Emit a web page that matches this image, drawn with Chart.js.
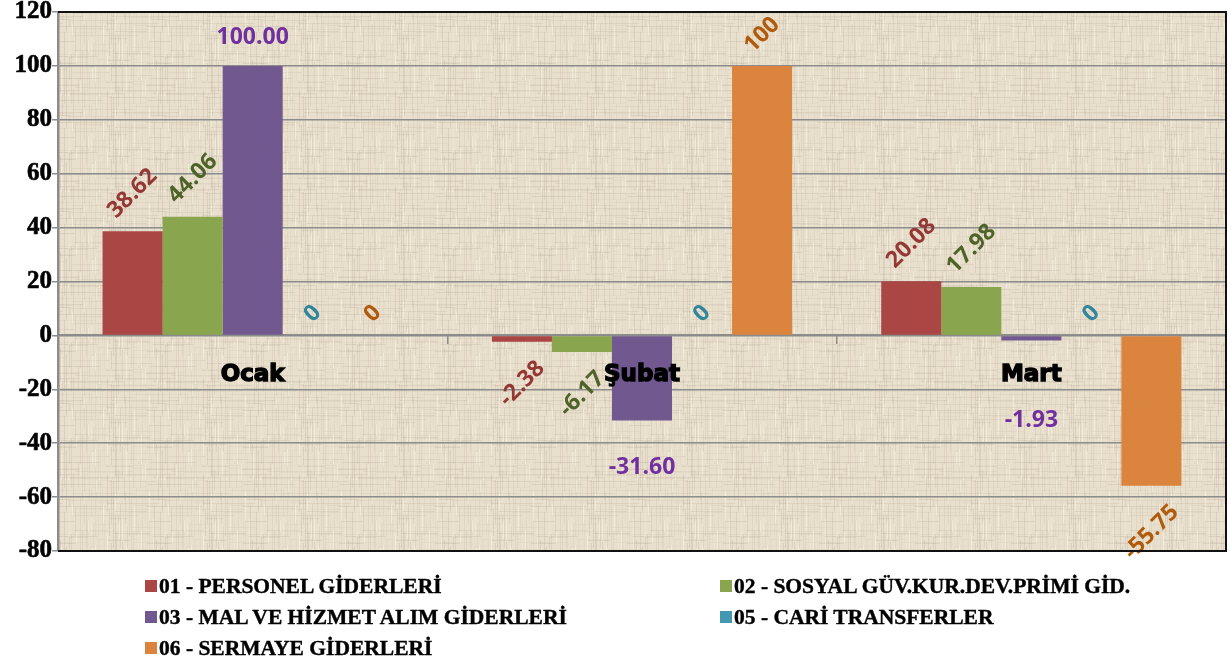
<!DOCTYPE html>
<html lang="tr">
<head>
<meta charset="utf-8">
<title>Ödenek değişimi</title>
<script src="https://cdn.jsdelivr.net/npm/chart.js@4.4.1/dist/chart.umd.min.js"></script>
<style>
    html, body { margin: 0; padding: 0; background: #fff; }
    #wrap { position: relative; width: 1231px; height: 664px; }
    #legend {
        position: absolute; left: 145px; top: 571px;
        display: grid; grid-template-columns: 575px auto;
        font: bold 21.5px "Liberation Serif", "Times New Roman", serif;
        color: #000; line-height: 31px;
        -webkit-text-stroke: 0.4px #000;
    }
    #legend .item { white-space: nowrap; }
    #legend .box {
        display: inline-block; width: 12px; height: 12px;
        margin-right: 2px; vertical-align: 1px;
    }
</style>
</head>
<body>
<div id="wrap">
    <canvas id="chart"></canvas>
    <div id="legend"></div>
</div>
<script>
// Veriler
const months = ["Ocak", "Şubat", "Mart"];
const personel = [38.62, -2.38, 20.08];
const sosyalGuv = [44.06, -6.17, 17.98];
const malHizmet = [100.00, -31.60, -1.93];
const cariTransfer = [0, 0, 0];
const sermaye = [0, 100, -55.75];
const yTicks = [-80, -60, -40, -20, 0, 20, 40, 60, 80, 100, 120];

const seriesNames = [
    "01 - PERSONEL GİDERLERİ",
    "02 - SOSYAL GÜV.KUR.DEV.PRİMİ GİD.",
    "03 - MAL VE HİZMET ALIM GİDERLERİ",
    "05 - CARİ TRANSFERLER",
    "06 - SERMAYE GİDERLERİ",
];

// Stil
const barColors = ["#AA4643", "#89A54E", "#71588F", "#4198AF", "#DB843D"];
const labelColors = ["#953735", "#4F6228", "#7030A0", "#31859C", "#B25A0C"];
const labelRotated = [true, true, false, true, true];
const labelDecimals = [null, null, 2, null, null];

const GRID = "#8c8c8c";
const X_TICK_LEN = 8;
const X_TICK_PAD = 18;
const X_FONT_SIZE = 23;
const LABEL_FONT = 'bold 23px "Open Sans", sans-serif';

// Arka plan dokusu (keten görünümü)
function makeLinen() {
    const c = document.createElement("canvas");
    c.width = 96;
    c.height = 96;
    const g = c.getContext("2d");
    g.fillStyle = "#E8DFCD";
    g.fillRect(0, 0, 96, 96);
    for (let i = 0; i < 48; i++) {
        const x = (i * 29) % 96;
        const a = 0.03 + ((i * 7) % 5) * 0.02;
        const y0 = (i * 13) % 96;
        const len = 20 + ((i * 11) % 60);
        g.fillStyle = `rgba(110, 92, 62, ${a})`;
        g.fillRect(x, y0, 1, len);
        if (y0 + len > 96) g.fillRect(x, 0, 1, y0 + len - 96);
    }
    for (let i = 0; i < 48; i++) {
        const y = (i * 31) % 96;
        const a = 0.03 + ((i * 3) % 5) * 0.02;
        const x0 = (i * 19) % 96;
        const len = 15 + ((i * 17) % 55);
        g.fillStyle = `rgba(110, 92, 62, ${a})`;
        g.fillRect(x0, y, len, 1);
        if (x0 + len > 96) g.fillRect(0, y, x0 + len - 96, 1);
    }
    for (let i = 0; i < 30; i++) {
        g.fillStyle = "rgba(255, 252, 240, 0.4)";
        g.fillRect((i * 23) % 96, (i * 41) % 96, 1, 12 + (i % 4) * 6);
    }
    return c;
}

const plotBackground = {
    id: "plotBackground",
    beforeDraw(chart) {
        const { ctx, chartArea: a } = chart;
        if (!this.pattern) this.pattern = ctx.createPattern(makeLinen(), "repeat");
        ctx.save();
        ctx.fillStyle = this.pattern;
        ctx.fillRect(a.left, a.top, a.right - a.left, a.bottom - a.top);
        ctx.restore();
    },
};

const plotBorder = {
    id: "plotBorder",
    afterDraw(chart) {
        const { ctx, chartArea: a } = chart;
        ctx.save();
        ctx.strokeStyle = "#111";
        ctx.lineWidth = 2;
        ctx.beginPath();
        ctx.moveTo(a.left, a.top);
        ctx.lineTo(a.right, a.top);
        ctx.lineTo(a.right, a.bottom);
        ctx.lineTo(a.left, a.bottom);
        ctx.stroke();
        ctx.restore();
    },
};

// Çubuk etiketleri
const barLabels = {
    id: "barLabels",
    afterDatasetsDraw(chart) {
        const { ctx } = chart;
        const xScale = chart.scales.x;
        const zeroY = chart.scales.y.getPixelForValue(0);
        const bandTop = zeroY + X_TICK_LEN + X_TICK_PAD;
        const bandBottom = bandTop + X_FONT_SIZE;
        ctx.save();
        ctx.font = 'bold ' + X_FONT_SIZE + 'px "DejaVu Sans"';
        const catHalf = months.map((m) => ctx.measureText(m).width / 2);
        ctx.font = LABEL_FONT;
        ctx.textAlign = "center";
        ctx.textBaseline = "middle";

        chart.data.datasets.forEach((ds, i) => {
            const meta = chart.getDatasetMeta(i);
            meta.data.forEach((bar, j) => {
                const v = ds.data[j];
                const text = labelDecimals[i] != null ? v.toFixed(labelDecimals[i]) : String(v);
                const w = ctx.measureText(text).width;
                const h = 17;
                const up = v >= 0;
                let cx = bar.x;
                let cy;
                ctx.fillStyle = labelColors[i];
                if (labelRotated[i]) {
                    const half = ((w + h) * Math.SQRT1_2) / 2;
                    cy = up ? bar.y - half - 11 : bar.y + half + 17;
                    ctx.save();
                    ctx.translate(cx, cy);
                    ctx.rotate(-Math.PI / 4);
                    ctx.fillText(text, 0, 0);
                    ctx.restore();
                } else {
                    cy = up ? bar.y - h / 2 - 20 : bar.y + h / 2 + 38;
                    const catX = xScale.getPixelForValue(j);
                    const hitX = Math.abs(cx - catX) < w / 2 + catHalf[j];
                    const hitY = cy + h / 2 > bandTop && cy - h / 2 < bandBottom;
                    if (!up && hitX && hitY) cy = bandBottom + h / 2 + 28;
                    ctx.fillText(text, cx, cy);
                }
            });
        });
        ctx.restore();
    },
};

const seriesValues = [personel, sosyalGuv, malHizmet, cariTransfer, sermaye];
const datasets = seriesValues.map((values, i) => ({
    label: seriesNames[i],
    data: values,
    backgroundColor: barColors[i],
    borderWidth: 0,
    barPercentage: 1,
    categoryPercentage: 0.771,
}));

const chart = new Chart(document.getElementById("chart"), {
    type: "bar",
    data: { labels: months, datasets: datasets },
    options: {
        responsive: true,
        maintainAspectRatio: false,
        animation: false,
        layout: { padding: { top: 12, right: 5, bottom: 113, left: 0 } },
        plugins: {
            legend: { display: false },
            tooltip: { enabled: false },
        },
        scales: {
            x: {
                position: { y: 0 },
                grid: {
                    display: true,
                    drawOnChartArea: false,
                    drawTicks: true,
                    tickLength: X_TICK_LEN,
                    color: GRID,
                    lineWidth: 1.5,
                },
                border: { display: true, color: GRID, width: 2 },
                ticks: {
                    z: 1,
                    padding: X_TICK_PAD,
                    color: "#000",
                    textStrokeColor: "#000",
                    textStrokeWidth: 1.4,
                    font: { family: "DejaVu Sans", size: X_FONT_SIZE, weight: "bold" },
                },
            },
            y: {
                min: -80,
                max: 120,
                afterBuildTicks: (scale) => {
                    scale.ticks = yTicks.map((v) => ({ value: v }));
                },
                afterFit: (scale) => {
                    scale.width = 58;
                    scale.paddingTop = 0;
                    scale.paddingBottom = 0;
                },
                grid: { color: GRID, lineWidth: 1.5, tickLength: 6 },
                border: { display: true, color: GRID, width: 2.5 },
                ticks: {
                    padding: 0,
                    color: "#000",
                    textStrokeColor: "#000",
                    textStrokeWidth: 0.6,
                    font: { family: "Liberation Serif", size: 25, weight: "bold" },
                },
            },
        },
    },
    plugins: [plotBackground, plotBorder, barLabels],
});

// Lejant
const legendEl = document.getElementById("legend");
chart.data.datasets.forEach((ds) => {
    const item = document.createElement("div");
    item.className = "item";
    const box = document.createElement("span");
    box.className = "box";
    box.style.background = ds.backgroundColor;
    item.appendChild(box);
    item.appendChild(document.createTextNode(ds.label));
    legendEl.appendChild(item);
});
</script>
</body>
</html>
